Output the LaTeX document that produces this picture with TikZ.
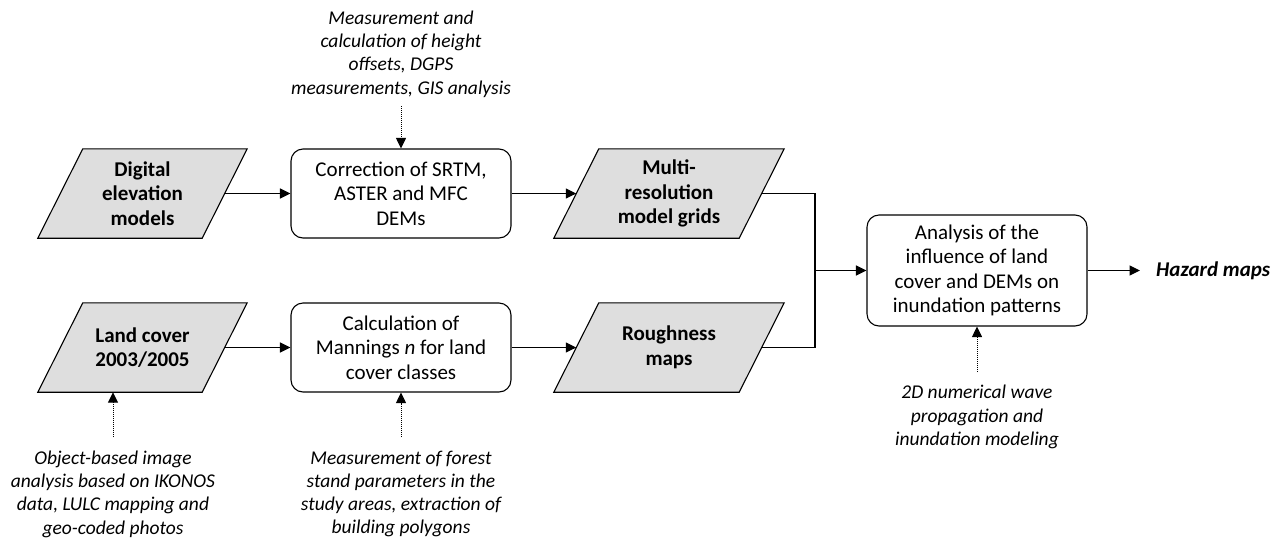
\documentclass[tikz,border=0pt]{standalone}
\usepackage{fontspec}
\setmainfont{Carlito}
\usetikzlibrary{arrows.meta,backgrounds}
\definecolor{parafill}{HTML}{DEDEDE}
\begin{document}
\begin{tikzpicture}[x=1pt,y=1pt,
  para/.style={minimum width=164pt, minimum height=89pt, inner sep=0pt, align=center, font=\fontsize{21}{24.5}\selectfont\bfseries},
  proc/.style={draw, rounded corners=12pt, line width=1.1pt, minimum width=220pt, minimum height=89pt, align=center, inner sep=0pt, font=\fontsize{21}{24.5}\selectfont},
  note/.style={align=center, inner sep=0pt, font=\fontsize{19.5}{23.3}\selectfont\itshape},
  flow/.style={line width=1.2pt, -{Triangle[length=10.5pt,width=10pt]}},
  link/.style={line width=1.2pt},
  feed/.style={line width=1pt, densely dotted, -{Triangle[length=10.5pt,width=10pt]}},
  parashape/.style={draw, fill=parafill, line width=1.1pt}
]
\useasboundingbox (0,0) rectangle (1284,-539);

% nodes
\node[note] (n1) at (401,-54) {Measurement and\\calculation of height\\offsets, DGPS\\measurements, GIS analysis};
\node[para] (dem) at (142.5,-193.5) {Digital\\elevation\\models};
\node[proc] (corr) at (401,-193.5) {Correction of SRTM,\\ASTER and MFC\\DEMs};
\node[para, minimum width=185pt] (multi) at (669,-193.5) {Multi-\\resolution\\model grids};
\node[para] (land) at (142.5,-347.5) {Land cover\\2003/2005};
\node[proc] (calc) at (401,-347.5) {Calculation of\\Mannings \textit{n} for land\\cover classes};
\node[para, minimum width=185pt] (rough) at (669,-347.5) {Roughness\\maps};
\node[proc, minimum height=111pt] (ana) at (977,-270.5) {Analysis of the\\influence of land\\cover and DEMs on\\inundation patterns};
\node[note, font=\fontsize{21}{24.5}\selectfont\bfseries\itshape, anchor=west] (haz) at (1156,-271) {Hazard maps};
\node[note] (n2) at (113,-494) {Object-based image\\analysis based on IKONOS\\data, LULC mapping and\\geo-coded photos};
\node[note] (n3) at (401,-494) {Measurement of forest\\stand parameters in the\\study areas, extraction of\\building polygons};
\node[note] (n4) at (977,-417) {2D numerical wave\\propagation and\\inundation modeling};

% parallelogram outlines behind the text
\begin{scope}[on background layer]
\foreach \n in {dem,land,multi,rough}
  \draw[parashape] ([xshift=22.5pt]\n.north west) -- ([xshift=22.5pt]\n.north east)
     -- ([xshift=-22.5pt]\n.south east) -- ([xshift=-22.5pt]\n.south west) -- cycle;
\end{scope}

% coordinates for free ends
\coordinate (c1) at (401,-106);
\coordinate (c2) at (113,-437);
\coordinate (c3) at (401,-437);
\coordinate (c4) at (977,-372);
\coordinate (j) at (815,-270.5);
\coordinate (h) at (1140,-270.5);

% connectors
\draw[flow] (dem.east) -- (corr.west);
\draw[flow] (corr.east) -- (multi.west);
\draw[flow] (land.east) -- (calc.west);
\draw[flow] (calc.east) -- (rough.west);
\draw[link] (multi.east) -| (j) |- (rough.east);
\draw[flow] (j) -- (ana.west);
\draw[flow] (ana.east) -- (h);

\draw[feed] (c1) -- (corr.north);
\draw[feed] (c2) -- (c2 |- land.south);
\draw[feed] (c3) -- (calc.south);
\draw[feed] (c4) -- (ana.south);
\end{tikzpicture}
\end{document}
